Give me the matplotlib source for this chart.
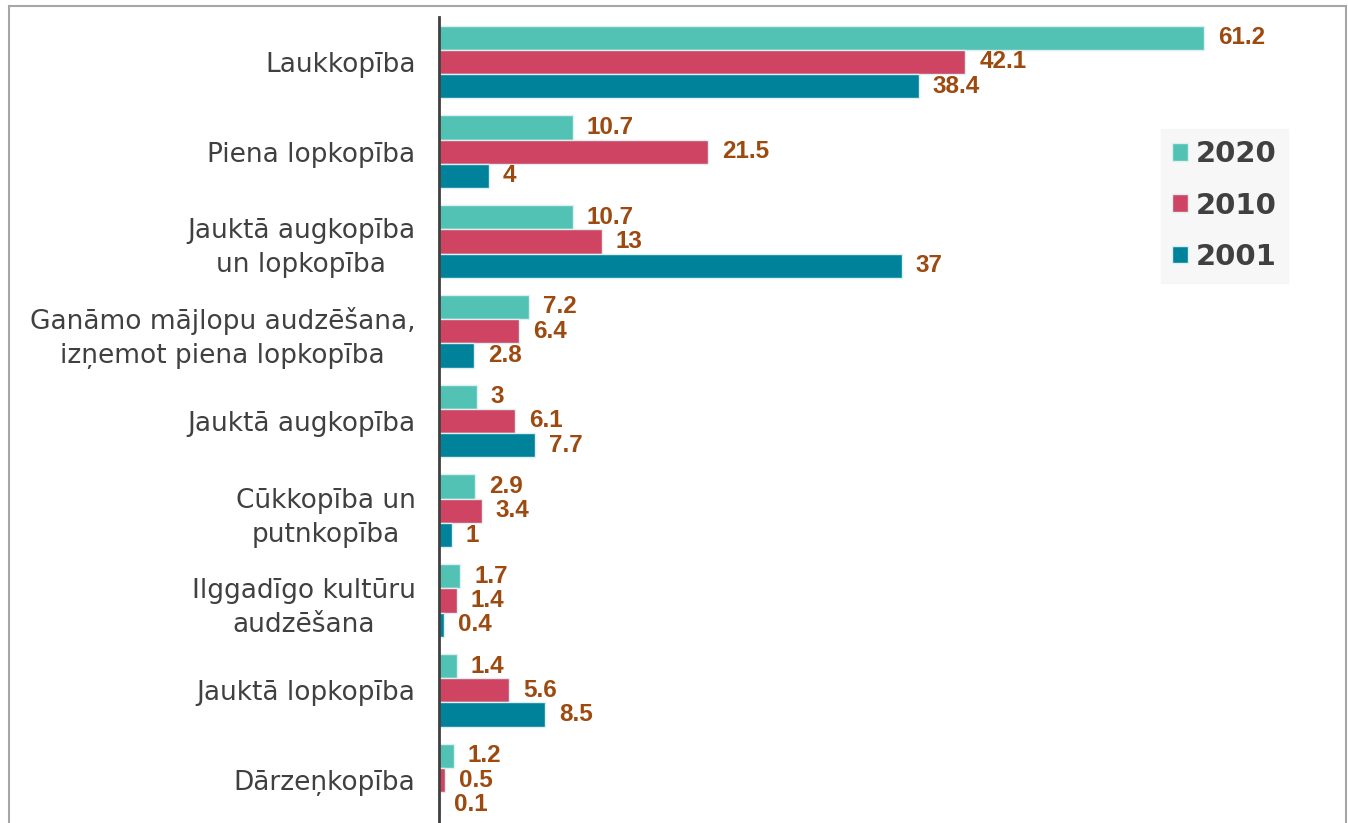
import matplotlib
matplotlib.use("Agg")
import matplotlib.pyplot as plt
import numpy as np
from matplotlib.patches import Rectangle

categories = ["Laukkopība", "Piena lopkopība", "Jauktā augkopība\nun lopkopība",
              "Ganāmo mājlopu audzēšana,\nizņemot piena lopkopība", "Jauktā augkopība",
              "Cūkkopība un\nputnkopība", "Ilggadīgo kultūru\naudzēšana",
              "Jauktā lopkopība", "Dārzeņkopība"]
series_names = ["2020", "2010", "2001"]
v2020 = [61.2, 10.7, 10.7, 7.2, 3, 2.9, 1.7, 1.4, 1.2]
v2010 = [42.1, 21.5, 13, 6.4, 6.1, 3.4, 1.4, 5.6, 0.5]
v2001 = [38.4, 4, 37, 2.8, 7.7, 1, 0.4, 8.5, 0.1]
colors = ["#52C2B5", "#CF4462", "#00829A"]

W, H = 1348, 823
fig = plt.figure(figsize=(W / 100, H / 100), dpi=100)
fig.patches.append(Rectangle((9 / W, -0.01), (1346 - 9) / W, 1.01 - 6 / H,
                             transform=fig.transFigure, fill=False,
                             edgecolor="#A6A6A6", linewidth=1.5))
ax_h = (823 - 17 + 2) / H
ax = fig.add_axes([439 / W, -2 / H, (1300 - 439) / W, ax_h])

y = np.arange(len(categories))
bh = 0.27
for i, (vals, name) in enumerate(zip([v2020, v2010, v2001], series_names)):
    pos = y + (i - 1) * bh
    ax.barh(pos, vals, height=bh, color=colors[i], edgecolor="#DDEFEF",
            linewidth=1.0, label=name)
    for p, v in zip(pos, vals):
        ax.annotate(f"{v:g}", (v, p), xytext=(10, 0), textcoords="offset points",
                    va="center", ha="left", fontsize=17.5, fontweight="bold",
                    color="#9C4A10", family="Liberation Sans")

ax.set_xlim(0, (1300 - 439) / 12.5)
ax.set_ylim(len(categories) - 0.5, -0.5)
ax.set_yticks(y)
ax.set_yticklabels(categories, fontsize=19, color="#404040", family="DejaVu Sans",
                   linespacing=1.4, ha="right", multialignment="center")
ax.tick_params(axis="y", length=0, pad=17)
ax.set_xticks([])
for s in ["top", "right", "bottom"]:
    ax.spines[s].set_visible(False)
ax.spines["left"].set_color("#404040")
ax.spines["left"].set_linewidth(2)

leg = ax.legend(loc="upper left",
                bbox_to_anchor=((1146 - 439) / (1300 - 439), (823 + 2 - 114) / (ax_h * H)),
                frameon=True, fancybox=False, handlelength=0.55, handleheight=0.55,
                handletextpad=0.25, labelspacing=0.8, borderpad=0.4,
                prop={"family": "DejaVu Sans", "weight": "bold", "size": 21})
leg.get_frame().set_facecolor("#F5F5F5")
leg.get_frame().set_edgecolor("#F5F5F5")
for t in leg.get_texts():
    t.set_color("#404040")

fig.savefig("out.png", dpi=100)
